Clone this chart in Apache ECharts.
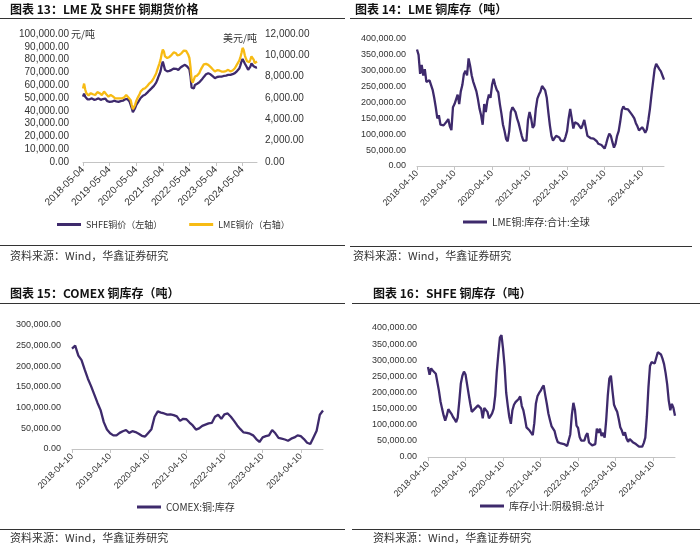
<!DOCTYPE html>
<html><head><meta charset="utf-8">
<script src="https://cdn.jsdelivr.net/npm/echarts@6/dist/echarts.min.js"></script>
<style>html,body{margin:0;padding:0;background:#fff}#c{width:700px;height:548px}</style>
</head><body><div id="c"></div>
<script>
// ---------- Chart 13: LME & SHFE copper futures price (semi-monthly, 04 & 19 of each month from 2018-05-04)
const shfePrice = [
51000,53500,51000,49500,49000,48400,49000,49500,49700,49000,
48600,48400,49000,49500,49700,49000,48600,48400,49200,49700,
49600,48500,47500,47000,47000,47000,47100,47500,47900,47800,
47400,47100,47000,47300,47600,47800,47900,48300,49000,49600,
49300,48000,47200,46000,42000,39000,38500,42000,44500,46000,
47200,48600,50000,51200,51700,52100,52500,53300,54200,55200,
56000,56800,57700,58800,59500,60400,62000,64000,66500,68500,
71000,75500,78500,77000,72000,71200,70800,70600,71200,71800,
72000,72500,73000,73300,72800,72300,72000,72800,73800,74600,
75000,75500,75900,75400,74600,74000,72500,67000,58000,56500,
57500,60200,60800,61200,61500,62300,63300,64200,65200,66500,
67800,68500,69000,69300,69000,68500,67800,67000,66200,65500,
65800,66400,66700,66700,66700,66700,67000,67200,67300,67500,
67800,68000,68000,68000,68000,68600,69200,69400,70000,71000,
72000,73000,75500,78500,80500,79500,77000,75600,73800,72000,
72800,74500,77000,76400,74800,73300,73800,74000];
const lmePrice = [
6900,7350,6800,6450,6300,6250,6350,6450,6430,6350,
6280,6280,6400,6550,6600,6450,6300,6280,6450,6600,
6580,6350,6200,6130,6200,6280,6250,6150,6050,5970,
5970,5970,5970,5970,5970,5970,5970,6050,6200,6280,
6200,6050,5970,5800,5350,4950,4900,5350,5700,5950,
6150,6350,6600,6780,6830,6880,6920,7020,7130,7260,
7380,7460,7560,7710,7890,8030,8300,8640,8950,9250,
9600,10150,10550,10350,9900,9800,9750,9730,9850,9980,
10050,10150,10280,10360,10200,10000,9900,10050,10150,10210,
10330,10450,10520,10420,10280,10050,9750,8900,7690,7450,
7600,8010,8060,8100,8160,8350,8600,8800,8950,9150,
9270,9200,9130,9110,9050,8920,8790,8700,8580,8490,
8520,8600,8640,8580,8500,8480,8480,8480,8480,8530,
8600,8640,8580,8500,8480,8580,8700,8790,8950,9150,
9270,9500,9800,10210,10700,10500,10000,9700,9450,9270,
9350,9600,9900,9800,9600,9270,9350,9420];

// ---------- Chart 14: LME copper stock (semi-monthly, 10 & 25 from 2018-04-10)
const lmeStock = [
367000,350000,290000,318000,285000,305000,265000,262000,270000,268000,
240000,215000,185000,150000,160000,130000,125000,128000,130000,140000,
148000,125000,113000,185000,195000,210000,225000,195000,235000,255000,
290000,300000,285000,339000,315000,285000,265000,250000,235000,210000,
180000,160000,130000,195000,170000,205000,225000,215000,255000,275000,
255000,240000,232000,195000,165000,130000,110000,85000,78000,110000,
170000,185000,178000,170000,150000,135000,115000,95000,80000,78000,
80000,145000,170000,150000,120000,128000,180000,212000,225000,235000,
252000,250000,238000,215000,170000,128000,95000,80000,88000,95000,
98000,90000,80000,75000,78000,92000,110000,150000,180000,150000,
118000,138000,135000,132000,128000,118000,130000,145000,120000,95000,
90000,88000,90000,86000,82000,78000,70000,72000,66000,70000,
55000,70000,88000,102000,95000,75000,58000,70000,95000,110000,
140000,175000,188000,180000,182000,178000,172000,165000,158000,150000,
135000,125000,112000,110000,122000,115000,105000,115000,145000,180000,
225000,265000,305000,322000,318000,305000,298000,285000,272000];

// ---------- Chart 15: COMEX copper stock (monthly, 10th from 2018-04-10)
const comexStock = [
243000,250000,226000,215000,192000,170000,152000,132000,112000,94000,
65000,47000,38000,33000,33000,39000,43000,46000,39000,43000,
41000,37000,32000,30000,39000,48000,78000,91000,88000,86000,
83000,84000,82000,79000,68000,73000,72000,64000,57000,47000,
50000,56000,59000,62000,63000,78000,83000,73000,84000,86000,
78000,68000,57000,48000,40000,39000,37000,33000,24000,17000,
28000,31000,33000,46000,38000,27000,25000,23000,20000,25000,
28000,33000,31000,24000,15000,12000,28000,44000,83000,93000];

// ---------- Chart 16: SHFE copper stock (semi-monthly, 10 & 25 from 2018-04-10)
const shfeStock = [
279000,255000,275000,268000,270000,258000,260000,205000,172000,150000,
129000,113000,128000,148000,142000,134000,124000,117000,108000,122000,
172000,228000,252000,265000,256000,225000,195000,166000,140000,144000,
150000,154000,160000,158000,150000,120000,152000,150000,140000,120000,
127000,135000,150000,190000,265000,320000,370000,378000,335000,280000,
200000,160000,124000,103000,145000,162000,170000,172000,180000,188000,
158000,145000,120000,92000,86000,82000,77000,68000,105000,165000,
188000,198000,205000,215000,222000,192000,165000,135000,115000,96000,
92000,80000,60000,46000,46000,42000,43000,40000,37000,34000,
38000,70000,130000,168000,146000,97000,90000,62000,51000,49000,
51000,66000,74000,45000,40000,36000,36000,40000,88000,75000,
88000,65000,75000,60000,115000,190000,243000,252000,205000,162000,
150000,140000,118000,92000,82000,67000,77000,57000,47000,56000,
51000,46000,48000,40000,35000,32000,29000,32000,43000,60000,
125000,215000,282000,294000,300000,290000,292000,325000,330000,318000,
305000,288000,260000,225000,175000,145000,165000,152000,128000];

// ---------- category builders (dates on the x axis)
function pad(n){return (n<10?'0':'')+n;}
function semiMonthlyDates(y, m, d1, d2, count){
  const out=[]; let half=0;
  while(out.length<count){
    out.push(y+'-'+pad(m)+'-'+pad(half?d2:d1));
    if(half){half=0; m++; if(m>12){m=1;y++;}} else half=1;
  }
  return out;
}
function monthlyDates(y, m, d, count){
  const out=[];
  while(out.length<count){ out.push(y+'-'+pad(m)+'-'+pad(d)); m++; if(m>12){m=1;y++;} }
  return out;
}
const priceDates = semiMonthlyDates(2018,5,4,19,shfePrice.length);
const lmeStockDates = semiMonthlyDates(2018,4,10,25,lmeStock.length);
const comexDates = monthlyDates(2018,4,10,comexStock.length);
const shfeStockDates = semiMonthlyDates(2018,4,10,25,shfeStock.length);

function fmt(v){ return String(Math.round(v)).replace(/\B(?=(\d{3})+(?!\d))/g, ',') + '.00'; }

const PURPLE = '#3e2a6c', YELLOW = '#f7bb14';
const NUMFONT = 'Liberation Sans';
const CJK = '"Noto Sans CJK SC"';

function xAx(grid, cats, step, fs){
  return {type:'category', gridIndex:grid, data:cats, boundaryGap:false,
    axisLine:{show:true, lineStyle:{color:'#c4c4c4', width:1}},
    axisTick:{show:true, length:4, interval:(i)=>i%step===0, lineStyle:{color:'#c4c4c4'}},
    axisLabel:{interval:(i)=>i%step===0, rotate:45, margin:6, fontSize:fs, color:'#333', fontFamily:NUMFONT},
    splitLine:{show:false}};
}
function yAx(grid, max, interval, fs, pos, margin){
  return {type:'value', gridIndex:grid, min:0, max:max, interval:interval, position:pos||'left',
    axisLine:{show:false}, axisTick:{show:false}, splitLine:{show:false},
    axisLabel:{formatter:fmt, fontSize:fs, color:'#333', fontFamily:NUMFONT, margin:margin}};
}
function lineSeries(name, xi, yi, data, color){
  return {type:'line', name:name, xAxisIndex:xi, yAxisIndex:yi, data:data, symbol:'none', showSymbol:false,
    lineStyle:{color:color, width:2.3}, itemStyle:{color:color}, emphasis:{disabled:true}};
}
function legend(names, left, top, fs){
  return {data:names, left:left, top:top, padding:0, icon:'rect', itemWidth:24, itemHeight:3, itemGap:27,
    textStyle:{fontSize:fs, color:'#333', fontFamily:CJK}};
}
function title(text, left, top){
  return {text:text, left:left, top:top, padding:0,
    textStyle:{fontSize:12, fontWeight:'bold', color:'#111', fontFamily:CJK}};
}
function txt(text, x, y, size){
  return {type:'text', x:x, y:y, silent:true,
    style:{text:text, fill:'#333', font:size+'px '+CJK, verticalAlign:'middle', textVerticalAlign:'middle', align:'left'}};
}
function hline(x1, x2, y, color){
  return {type:'line', silent:true, shape:{x1:x1, y1:y, x2:x2, y2:y}, style:{stroke:color||'#333', lineWidth:1}};
}

const chart = echarts.init(document.getElementById('c'));
chart.setOption({
  animation:false,
  backgroundColor:'#fff',
  title:[
    title('图表 13：LME 及 SHFE 铜期货价格', 10, 3),
    title('图表 14：LME 铜库存（吨）', 355, 3),
    title('图表 15：COMEX 铜库存（吨）', 10, 287),
    title('图表 16：SHFE 铜库存（吨）', 373, 287)
  ],
  grid:[
    {left:83, top:34, width:174, height:128, outerBoundsMode:'none'},
    {left:417, top:39, width:247, height:127, outerBoundsMode:'none'},
    {left:72, top:325, width:251, height:124, outerBoundsMode:'none'},
    {left:428, top:328, width:247, height:129, outerBoundsMode:'none'}
  ],
  xAxis:[
    xAx(0, priceDates, 24, 10),
    xAx(1, lmeStockDates, 24, 9),
    xAx(2, comexDates, 12, 9),
    xAx(3, shfeStockDates, 24, 9)
  ],
  yAxis:[
    yAx(0, 100000, 10000, 10, 'left', 14),
    yAx(0, 12000, 2000, 10, 'right', 8),
    yAx(1, 400000, 50000, 9, 'left', 11),
    yAx(2, 300000, 50000, 9, 'left', 11),
    yAx(3, 400000, 50000, 9, 'left', 11)
  ],
  legend:[
    legend(['SHFE铜价（左轴）','LME铜价（右轴）'], 57, 220, 9),
    legend(['LME铜:库存:合计:全球'], 463, 217, 10),
    legend(['COMEX:铜:库存'], 137, 502, 10),
    legend(['库存小计:阴极铜:总计'], 480, 501, 10)
  ],
  series:[
    lineSeries('SHFE铜价（左轴）', 0, 0, shfePrice, PURPLE),
    lineSeries('LME铜价（右轴）', 0, 1, lmePrice, YELLOW),
    lineSeries('LME铜:库存:合计:全球', 1, 2, lmeStock, PURPLE),
    lineSeries('COMEX:铜:库存', 2, 3, comexStock, PURPLE),
    lineSeries('库存小计:阴极铜:总计', 3, 4, shfeStock, PURPLE)
  ],
  graphic:[
    hline(0, 345, 18.5), hline(350, 692, 18.5), hline(0, 345, 303.5), hline(352, 700, 303.5),
    hline(0, 345, 245.5), hline(350, 692, 246.5), hline(0, 345, 529.5), hline(352, 700, 529.5),
    txt('元/吨', 71, 34, 10),
    txt('美元/吨', 223, 38, 10),
    txt('资料来源：Wind，华鑫证券研究', 10, 256, 11),
    txt('资料来源：Wind，华鑫证券研究', 353, 256, 11),
    txt('资料来源：Wind，华鑫证券研究', 10, 538, 11),
    txt('资料来源：Wind，华鑫证券研究', 373, 538, 11)
  ]
});
</script></body></html>
